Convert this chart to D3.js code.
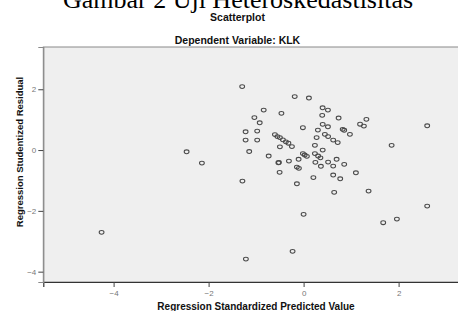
<!DOCTYPE html>
<html><head><meta charset="utf-8">
<script src="https://cdn.jsdelivr.net/npm/d3@7"></script>
<style>body{margin:0;background:#fff}svg{display:block}</style>
</head><body><svg id="c" width="458" height="311"></svg>
<script>
const xTicks = [-4, -2, 0, 2];
const yTicks = [2, 0, -2, -4];
const predicted = [-1.293,-0.187,0.112,-0.840,-0.467,0.400,0.512,-1.036,-0.924,0.392,0.737,1.322,1.189,1.269,2.602,0.402,0.512,-0.015,0.301,0.823,0.855,0.975,-1.221,-0.977,-1.221,-0.977,0.448,0.516,0.274,0.623,0.718,-0.604,-0.552,-0.499,-0.436,-0.373,-0.320,-0.246,1.853,-1.145,-0.499,0.238,0.402,-0.735,-0.015,0.023,0.069,0.238,0.305,0.354,-0.105,0.695,-0.309,0.248,-0.531,0.516,0.364,0.623,0.855,-0.141,-0.099,-0.505,1.101,0.206,0.623,0.771,-1.288,-0.141,0.644,1.368,2.602,0.000,1.676,1.964,-0.232,-1.215,-2.463,-2.141,-4.253,-0.520];
const residual = [2.089,1.760,1.711,1.316,1.207,1.391,1.316,1.069,0.898,1.141,1.053,1.010,0.849,0.789,0.799,0.845,0.766,0.734,0.658,0.681,0.651,0.516,0.602,0.625,0.329,0.329,0.516,0.444,0.411,0.329,0.247,0.510,0.444,0.411,0.336,0.270,0.224,0.115,0.155,-0.049,0.105,0.155,0.000,-0.197,-0.115,-0.164,-0.207,-0.115,-0.197,-0.257,-0.303,-0.303,-0.362,-0.405,-0.418,-0.395,-0.533,-0.526,-0.470,-0.559,-0.602,-0.734,-0.747,-0.905,-0.822,-0.944,-1.020,-1.109,-1.391,-1.349,-1.842,-2.115,-2.391,-2.270,-3.332,-3.586,-0.056,-0.428,-2.707,-0.410];

const svg = d3.select("#c");
const L = 43.3, R = 470, T = 47, B = 282;
const x = d3.scaleLinear().domain([-5.48, 3.5]).range([L, L + (3.5 + 5.48) * 47.5]);
const y = d3.scaleLinear().domain([3.39, -4.34]).range([T, B]);

// caption (cropped at top, as in the reference)
svg.append("text").attr("x", 238).attr("y", 8).attr("text-anchor", "middle")
  .attr("font-family", "Liberation Serif, Times New Roman, serif").attr("font-size", 26)
  .text("Gambar 2 Uji Heteroskedastisitas");
svg.append("text").attr("x", 237.5).attr("y", 21).attr("text-anchor", "middle")
  .attr("font-family", "Liberation Sans, Arial, sans-serif").attr("font-weight", "bold").attr("font-size", 10.5)
  .attr("fill", "#111").text("Scatterplot");
svg.append("text").attr("x", 237.5).attr("y", 44.3).attr("text-anchor", "middle")
  .attr("font-family", "Liberation Sans, Arial, sans-serif").attr("font-weight", "bold").attr("font-size", 10.5)
  .attr("fill", "#111").text("Dependent Variable: KLK");

// plot background
svg.append("rect").attr("x", L).attr("y", T).attr("width", R - L).attr("height", B - T)
  .attr("fill", "#efefef").attr("stroke", "#8a8a8a").attr("stroke-width", 1);

// points
svg.append("g").selectAll("ellipse").data(predicted).join("ellipse")
  .attr("cx", (d) => x(d)).attr("cy", (d, i) => y(residual[i]))
  .attr("rx", 2.4).attr("ry", 1.9)
  .attr("fill", "none").attr("stroke", "#4a4a4a").attr("stroke-width", 1.05);

// axes
const xa = svg.append("g").attr("transform", `translate(0,${B})`)
  .call(d3.axisBottom(x).tickValues(xTicks).tickSize(5).tickPadding(3).tickFormat(d3.format("d")));
const ya = svg.append("g").attr("transform", `translate(${L},0)`)
  .call(d3.axisLeft(y).tickValues(yTicks).tickSize(5).tickPadding(2).tickFormat(d3.format("d")));
[xa, ya].forEach(g => {
  g.select(".domain").attr("stroke", "#333").attr("stroke-width", 1.2);
  g.selectAll(".tick line").attr("stroke", "#444");
  g.selectAll(".tick text").attr("fill", "#777").attr("font-size", 8)
    .attr("font-family", "Liberation Sans, Arial, sans-serif");
});
ya.select(".domain").attr("stroke", "#8a8a8a");

// axis titles
svg.append("text").attr("x", 256).attr("y", 309.5).attr("text-anchor", "middle")
  .attr("font-family", "Liberation Sans, Arial, sans-serif").attr("font-weight", "bold").attr("font-size", 10)
  .attr("fill", "#111").text("Regression Standardized Predicted Value");
svg.append("text").attr("transform", "translate(23,152) rotate(-90)").attr("text-anchor", "middle")
  .attr("font-family", "Liberation Sans, Arial, sans-serif").attr("font-weight", "bold").attr("font-size", 9.5)
  .attr("fill", "#111").text("Regression Studentized Residual");
</script></body></html>
